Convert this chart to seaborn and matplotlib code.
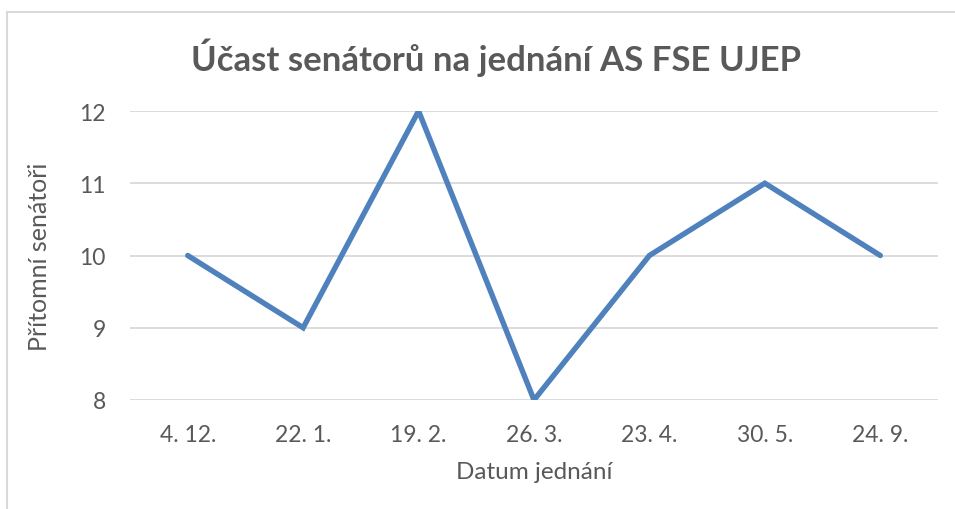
import matplotlib.pyplot as plt
import pandas as pd
import seaborn as sns
from matplotlib.lines import Line2D

dates = ["4. 12.", "22. 1.", "19. 2.", "26. 3.", "23. 4.", "30. 5.", "24. 9."]
senators = [10, 9, 12, 8, 10, 11, 10]
y_ticks = [8, 9, 10, 11, 12]

df = pd.DataFrame({"datum": dates, "pocet": senators})

sns.set_style("white")
plt.rcParams["font.family"] = ["Lato", "DejaVu Sans"]
text_color = "#595959"

fig = plt.figure(figsize=(9.55, 5.1), dpi=100)
ax = fig.add_axes([130 / 955, 1 - 401 / 510, 808 / 955, 289 / 510])

sns.lineplot(data=df, x="datum", y="pocet", ax=ax, sort=False, color="#4F81BD", lw=3.9, solid_joinstyle="miter")

ax.set_xlim(-0.5, len(dates) - 0.5)
ax.set_ylim(8, 12)
ax.set_yticks(y_ticks)
ax.grid(axis="y", color="#d9d9d9", lw=1.3)
ax.set_axisbelow(True)
for s in ax.spines.values():
    s.set_visible(False)
ax.tick_params(left=False, bottom=False, labelsize=16.5, labelcolor=text_color, pad=14)
ax.set_xlabel("Datum jednání", fontsize=17.5, color=text_color, labelpad=11)
ax.set_ylabel("Přítomní senátoři", fontsize=18, color=text_color, labelpad=20)

fig.text(496 / 955, 1 - 58 / 510, "Účast senátorů na jednání AS FSE UJEP", ha="center", va="center",
         fontsize=25, fontweight="bold", color=text_color)

# chart frame (only top and left edges visible in the crop)
fig.add_artist(Line2D([7 / 955, 7 / 955], [0, 1 - 13 / 510], color="#d9d9d9", lw=1.5, transform=fig.transFigure))
fig.add_artist(Line2D([7 / 955, 1], [1 - 13 / 510, 1 - 13 / 510], color="#d9d9d9", lw=1.5, transform=fig.transFigure))

fig.savefig("out.png", dpi=100)
